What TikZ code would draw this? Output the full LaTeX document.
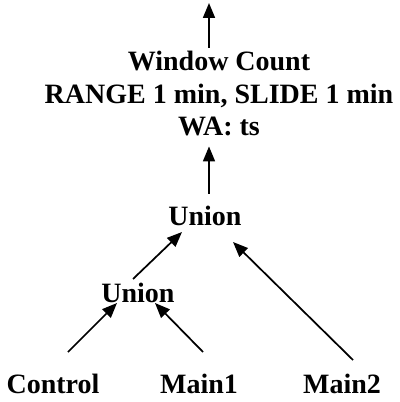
\documentclass[tikz,border=0pt]{standalone}
\usepackage{fontspec}
\setmainfont{Liberation Serif}
\usetikzlibrary{arrows.meta,calc}
\begin{document}
\begin{tikzpicture}[x=0.75pt,y=-0.75pt,
  lbl/.style={font=\fontsize{21}{24.4}\selectfont\bfseries,inner sep=0pt},
  flow/.style={line width=1.3pt,-{Triangle[length=11.25pt,width=9pt]}}]
\useasboundingbox (0,0) rectangle (399,402);
\node[lbl,anchor=base] (control) at (53,393) {Control};
\node[lbl,anchor=base] (main1) at (199,393) {Main1};
\node[lbl,anchor=base] (main2) at (342,393) {Main2};
\node[lbl,anchor=base] (union1) at (138,302) {Union};
\node[lbl,anchor=base] (union2) at (205,225) {Union};
\node[lbl,anchor=north,align=center] (win) at (219,51) {Window Count\\RANGE 1 min, SLIDE 1 min\\WA: ts};
\coordinate (out) at (209,3);
\draw[flow] ($(control.base)+(15,-41)$) -- ($(union1.base)+(-21,1)$);
\draw[flow] ($(main1.base)+(4,-41)$) -- ($(union1.base)+(17,1)$);
\draw[flow] ($(union1.base)+(-5,-23)$) -- ($(union2.base)+(-23,7)$);
\draw[flow] ($(main2.base)+(11,-33)$) -- ($(union2.base)+(28,17)$);
\draw[flow] ($(union2.base)+(4,-31)$) -- ($(win.south)+(-10,10)$);
\draw[flow] ($(win.north)+(-10,-3)$) -- (out);
\end{tikzpicture}
\end{document}
